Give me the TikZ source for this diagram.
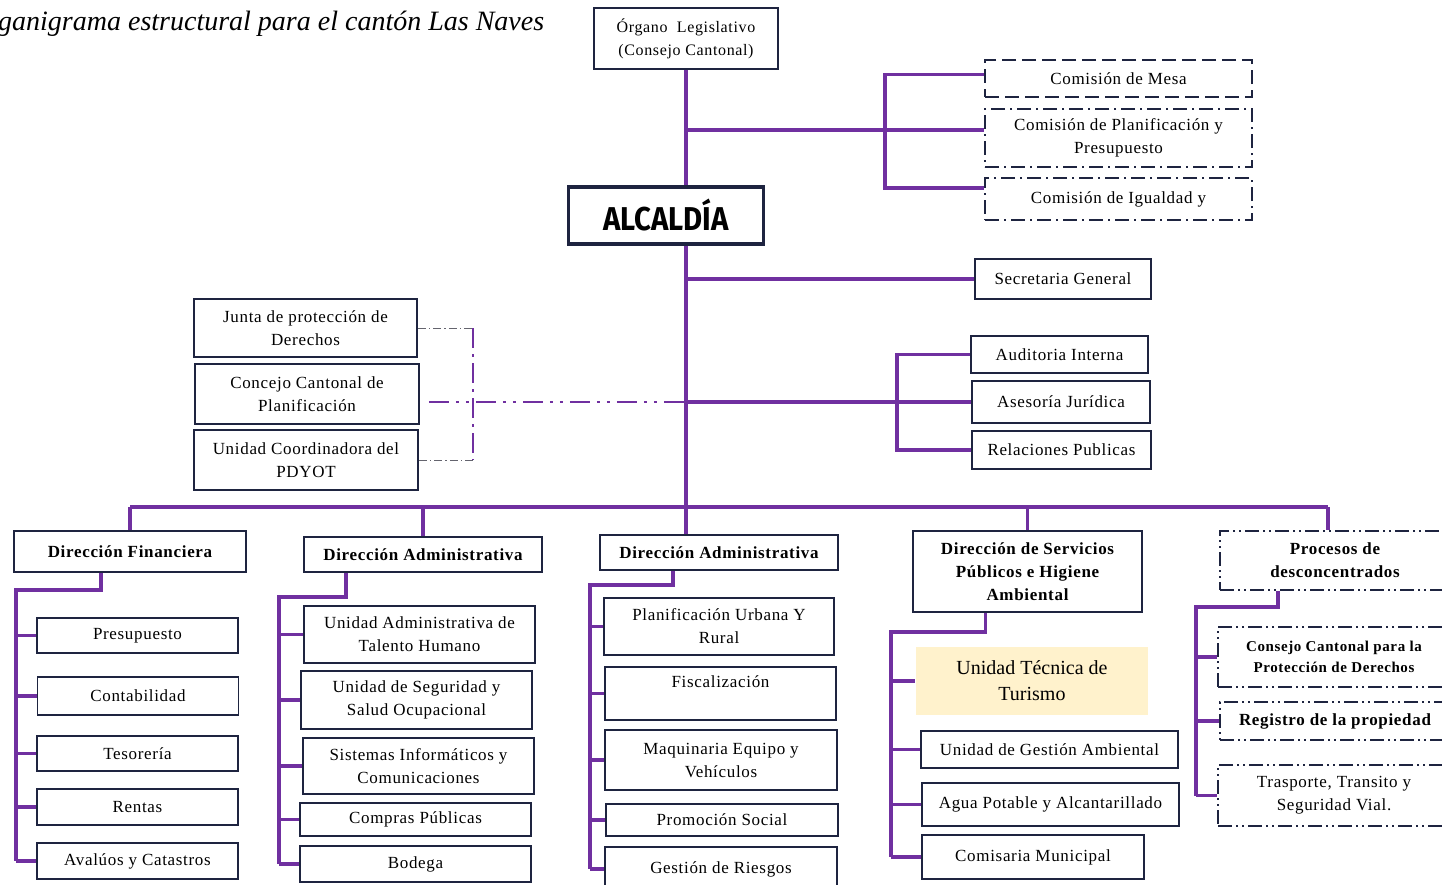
\documentclass[tikz,border=0pt]{standalone}
\usepackage{fontspec}
\setmainfont{Liberation Serif}
\newfontfamily\boxfont[LetterSpace=4.0]{Liberation Serif}
\newfontfamily\alcfont{Fira Sans}
\definecolor{org-purple}{RGB}{112, 48, 160}
\definecolor{org-navy}{RGB}{30, 36, 64}
\definecolor{org-cream}{RGB}{255, 242, 204}
\definecolor{org-gray}{RGB}{100, 100, 110}
\tikzset{
  box/.style={draw=org-navy, line width=1.6pt, fill=white, align=center, inner sep=1pt, font=\boxfont\fontsize{17}{23}\selectfont},
  headbox/.style={box, font=\boxfont\fontsize{17}{23}\selectfont\bfseries},
  dashbox/.style={box, dash pattern=on 14pt off 6pt},
  dotbox/.style={box, dash pattern=on 14pt off 5pt on 2pt off 5pt},
  ddotbox/.style={box, dash pattern=on 14pt off 4pt on 2pt off 4pt on 2pt off 4pt},
  link/.style={draw=org-purple, line width=3.2pt},
  advlink/.style={draw=org-purple, line width=2.8pt, dash pattern=on 20pt off 6pt on 3pt off 6pt},
  advlink2/.style={draw=org-purple, line width=2.8pt, dash pattern=on 20pt off 7pt on 3pt off 7pt on 3pt off 7pt},
  advgray/.style={draw=org-gray, line width=0.9pt, dash pattern=on 8pt off 3pt on 1.5pt off 3pt}
}
\begin{document}
\begin{tikzpicture}[x=1pt, y=-1pt]
\useasboundingbox (0,0) rectangle (1442,884);
\clip (0,0) rectangle (1442,884);
\node[anchor=west, inner sep=0pt, font=\fontsize{28}{28}\selectfont\itshape] (title) at (-2,24) {ganigrama estructural para el cantón Las Naves};

\node[box, minimum width=184pt, minimum height=61pt, font=\boxfont\fontsize{16}{23}\selectfont] (leg) at (686,38.5) {Órgano \ Legislativo\\(Consejo Cantonal)};
\node[box, line width=3.5pt, minimum width=195pt, minimum height=57pt] (alc) at (666,215.5) {\alcfont\bfseries\fontsize{33}{33}\selectfont\scalebox{0.89}[1]{ALCALDÍA}};

\node[dashbox, minimum width=267pt, minimum height=37pt] (mesa) at (1118.5,78.5) {Comisión de Mesa};
\node[dotbox, minimum width=267pt, minimum height=58pt] (plan) at (1118.5,138) {Comisión de Planificación y\\Presupuesto};
\node[dotbox, minimum width=267pt, minimum height=42pt] (igual) at (1118.5,199) {Comisión de Igualdad y};
\node[box, minimum width=176pt, minimum height=40pt] (sec) at (1063,279) {Secretaria General};
\node[box, minimum width=177pt, minimum height=37pt] (aud) at (1059.5,354.5) {Auditoria Interna};
\node[box, minimum width=178pt, minimum height=42pt] (ase) at (1061,402) {Asesoría Jurídica};
\node[box, minimum width=179pt, minimum height=38pt] (rel) at (1061.5,450) {Relaciones Publicas};

\node[box, minimum width=223pt, minimum height=58pt] (junta) at (305.5,328) {Junta de protección de\\Derechos};
\node[box, minimum width=224pt, minimum height=60pt] (ccp) at (307,394) {Concejo Cantonal de\\Planificación};
\node[box, minimum width=224pt, minimum height=60pt] (ucp) at (306,460) {Unidad Coordinadora del\\PDYOT};

\node[headbox, minimum width=232pt, minimum height=41pt] (fin) at (130,551.5) {Dirección Financiera};
\node[box, minimum width=201pt, minimum height=35pt] (pres) at (137.5,635.5) {Presupuesto};
\node[box, minimum width=201pt, minimum height=38pt] (cont) at (138,696) {Contabilidad};
\node[box, minimum width=201pt, minimum height=35pt] (teso) at (137.5,753.5) {Tesorería};
\node[box, minimum width=201pt, minimum height=36pt] (rent) at (137.5,807) {Rentas};
\node[box, minimum width=201pt, minimum height=36pt] (aval) at (137.5,861) {Avalúos y Catastros};

\node[headbox, minimum width=238pt, minimum height=35pt] (da1) at (423,554.5) {Dirección Administrativa};
\node[box, minimum width=231pt, minimum height=57pt] (utal) at (419.5,634.5) {Unidad Administrativa de\\Talento Humano};
\node[box, minimum width=231pt, minimum height=58pt] (useg) at (416.5,700) {Unidad de Seguridad y\\Salud Ocupacional};
\node[box, minimum width=231pt, minimum height=56pt] (sist) at (418.5,766) {Sistemas Informáticos y\\Comunicaciones};
\node[box, minimum width=231pt, minimum height=33pt] (comp) at (415.5,819.5) {Compras Públicas};
\node[box, minimum width=231pt, minimum height=36pt] (bode) at (415.5,864) {Bodega};

\node[headbox, minimum width=238pt, minimum height=35pt] (da2) at (719,552.5) {Dirección Administrativa};
\node[box, minimum width=230pt, minimum height=57pt] (plu) at (719,626.5) {Planificación Urbana Y\\Rural};
\node[box, minimum width=231pt, minimum height=53pt] (fisc) at (720.5,693.5) {Fiscalización\\~};
\node[box, minimum width=232pt, minimum height=60pt] (maq) at (721,760) {Maquinaria Equipo y\\Vehículos};
\node[box, minimum width=232pt, minimum height=32pt] (prom) at (722,820) {Promoción Social};
\node[box, minimum width=232pt, minimum height=44pt] (gest) at (721,869) {Gestión de Riesgos};

\node[headbox, minimum width=229pt, minimum height=81pt] (dsp) at (1027.5,571.5) {Dirección de Servicios\\Públicos e Higiene\\Ambiental};
\node[box, draw=none, fill=org-cream, minimum width=232pt, minimum height=68pt, font=\fontsize{20}{26}\selectfont] (tur) at (1032,681) {Unidad Técnica de\\Turismo};
\node[box, minimum width=257pt, minimum height=37pt] (uga) at (1049.5,749.5) {Unidad de Gestión Ambiental};
\node[box, minimum width=257pt, minimum height=43pt] (agua) at (1050.5,804.5) {Agua Potable y Alcantarillado};
\node[box, minimum width=222pt, minimum height=44pt] (comi) at (1033,857) {Comisaria Municipal};

\node[ddotbox, font=\boxfont\fontsize{17}{23}\selectfont\bfseries, minimum width=230pt, minimum height=59pt] (proc) at (1335,560.5) {Procesos de\\desconcentrados};
\node[ddotbox, font=\boxfont\fontsize{15}{21}\selectfont\bfseries, minimum width=232pt, minimum height=60pt] (ccpd) at (1334,657) {Consejo Cantonal para la\\Protección de Derechos};
\node[ddotbox, font=\boxfont\fontsize{17}{23}\selectfont\bfseries, minimum width=230pt, minimum height=38pt] (regp) at (1335,721) {Registro de la propiedad};
\node[ddotbox, minimum width=232pt, minimum height=61pt] (tras) at (1334,795.5) {Trasporte, Transito y\\Seguridad Vial.};

\coordinate (bus) at (686,507);
\coordinate (com-spine) at (885,0);
\coordinate (asr-spine) at (897,0);
\coordinate (lft-spine) at (473,0);
\coordinate (mesa-in) at ([yshift=4pt]mesa.west);
\coordinate (plan-in) at ([yshift=8pt]plan.west);
\coordinate (igual-in) at ([yshift=11pt]igual.west);
\coordinate (ccp-out) at ([xshift=9pt,yshift=-8pt]ccp.east);
\coordinate (proc-top) at ([xshift=-7pt]proc.north);
\coordinate (fin-spine) at (16,590);
\coordinate (da1-spine) at (279,597);
\coordinate (da2-spine) at (590,585);
\coordinate (dsp-spine) at (891,632);
\coordinate (proc-spine) at (1196,607);

\draw[link] (leg.south) -- (leg.south |- alc.north);
\draw[link] (leg.south |- alc.south) -- (leg.south |- da2.north);
\draw[link] (leg.south |- plan-in) -- (plan-in);
\draw[link] (mesa-in) -| (com-spine |- igual-in) -- (igual-in);
\draw[link] (leg.south |- sec.west) -- (sec.west);
\draw[link] (leg.south |- ase.west) -- (ase.west);
\draw[link] (aud.west) -| (asr-spine |- rel.west) -- (rel.west);

\draw[advgray] (junta.east) -- (lft-spine |- junta.east);
\draw[advgray] (ucp.east) -- (lft-spine |- ucp.east);
\draw[advlink] (lft-spine |- junta.east) -- (lft-spine |- ucp.east);
\draw[advlink2] (ccp-out) -- (leg.south |- ccp-out);

\draw[link] (fin.north |- bus) -- (proc-top |- bus);
\foreach \n in {fin,da1,dsp,proc-top}
  \draw[link] (\n |- bus) -- (\n);

\draw[link] ([xshift=-29pt]fin.south) |- (fin-spine) -- (fin-spine |- aval.west);
\foreach \n in {pres,cont,teso,rent,aval}
  \draw[link] (fin-spine |- \n.west) -- (\n.west);
\draw[link] ([xshift=-77pt]da1.south) |- (da1-spine) -- (da1-spine |- bode.west);
\foreach \n in {utal,useg,sist,comp,bode}
  \draw[link] (da1-spine |- \n.west) -- (\n.west);
\draw[link] ([xshift=-46pt]da2.south) |- (da2-spine) -- (da2-spine |- gest.west);
\foreach \n in {plu,fisc,maq,prom,gest}
  \draw[link] (da2-spine |- \n.west) -- (\n.west);
\draw[link] ([xshift=-42pt]dsp.south) |- (dsp-spine) -- (dsp-spine |- comi.west);
\foreach \n in {tur,uga,agua,comi}
  \draw[link] (dsp-spine |- \n.west) -- (\n.west);
\draw[link] ([xshift=-57pt]proc.south) |- (proc-spine) -- (proc-spine |- tras.west);
\foreach \n in {ccpd,regp,tras}
  \draw[link] (proc-spine |- \n.west) -- (\n.west);
\end{tikzpicture}
\end{document}
